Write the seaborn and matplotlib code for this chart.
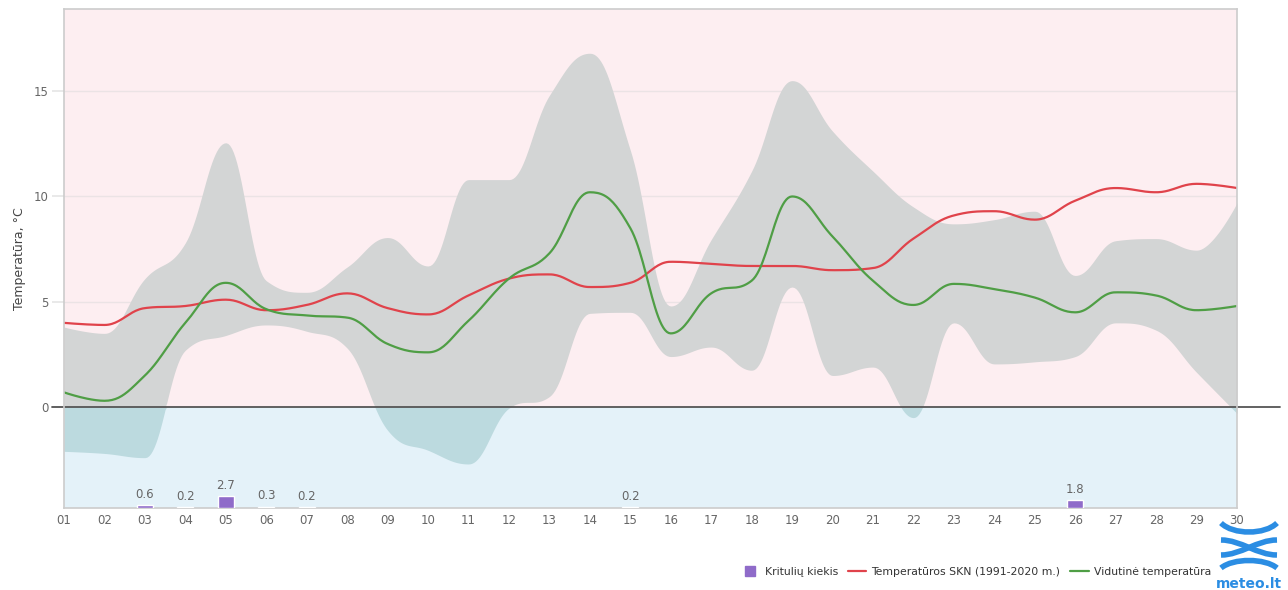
import numpy as np
import pandas as pd
import matplotlib
matplotlib.use("Agg")
import matplotlib.pyplot as plt
import seaborn as sns
from matplotlib.lines import Line2D
from matplotlib.path import Path
from matplotlib.patches import PathPatch

# ---------------- data ----------------
days = list(range(1, 31))
day_labels = [f"{d:02d}" for d in days]

t_norm = [4.0, 3.9, 4.7, 4.8, 5.1, 4.6, 4.85, 5.4, 4.7, 4.4, 5.3, 6.1, 6.3, 5.7, 5.9,
          6.9, 6.8, 6.7, 6.7, 6.5, 6.6, 8.0, 9.1, 9.3, 8.9, 9.8, 10.4, 10.2, 10.6, 10.4]
t_avg = [0.7, 0.3, 1.5, 4.0, 5.9, 4.65, 4.35, 4.25, 3.0, 2.6, 4.1, 6.1, 7.3, 10.2, 8.5,
         3.5, 5.4, 6.0, 10.0, 8.1, 6.0, 4.85, 5.85, 5.6, 5.2, 4.5, 5.45, 5.3, 4.6, 4.8]
t_max = [3.8, 3.5, 6.1, 7.8, 12.55, 6.0, 5.45, 6.65, 8.05, 6.7, 10.8, 10.8, 14.8, 16.8, 12.2,
         4.8, 7.95, 11.2, 15.5, 13.1, 11.2, 9.5, 8.7, 8.9, 9.3, 6.25, 7.9, 8.0, 7.45, 9.7]
t_min = [-2.1, -2.2, -2.4, 2.7, 3.4, 3.9, 3.6, 2.8, -1.1, -2.05, -2.7, -0.05, 0.5, 4.45, 4.5,
         2.4, 2.85, 1.75, 5.7, 1.5, 1.9, -0.5, 4.0, 2.05, 2.15, 2.4, 4.0, 3.65, 1.65, -0.3]

precip_days = [3, 4, 5, 6, 7, 15, 26]
precip_vals = [0.6, 0.2, 2.7, 0.3, 0.2, 0.2, 1.8]

legend_labels = ["Kritulių kiekis", "Temperatūros SKN (1991-2020 m.)", "Vidutinė temperatūra"]
y_label = "Temperatūra, °C"

# ---------------- colours ----------------
C_PINK = "#fdeef1"
C_BLUE = "#e4f2f9"
C_BAND = "#d3d5d5"
C_BAND_NEG = "#bcdadf"
C_RED = "#e0434b"
C_GREEN = "#4f9e45"
C_BAR = "#8f6bc9"
C_TXT = "#666666"
C_LOGO = "#2b8de3"


def spline(xs, ys, n=24, smoothing=1.5):
    """Highcharts-like spline (cubic bezier through points)."""
    xs = np.asarray(xs, float)
    ys = np.asarray(ys, float)
    m = len(xs)
    lcx, lcy = xs.copy(), ys.copy()
    rcx, rcy = xs.copy(), ys.copy()
    d = smoothing + 1
    for i in range(1, m - 1):
        px, py = xs[i], ys[i]
        lx, ly = xs[i - 1], ys[i - 1]
        nx, ny = xs[i + 1], ys[i + 1]
        lX = (smoothing * px + lx) / d
        lY = (smoothing * py + ly) / d
        rX = (smoothing * px + nx) / d
        rY = (smoothing * py + ny) / d
        if rX != lX:
            corr = (rY - lY) * (rX - px) / (rX - lX) + py - rY
            lY += corr
            rY += corr
            if lY > ly and lY > py:
                lY = max(ly, py); rY = 2 * py - lY
            elif lY < ly and lY < py:
                lY = min(ly, py); rY = 2 * py - lY
            if rY > ny and rY > py:
                rY = max(ny, py); lY = 2 * py - rY
            elif rY < ny and rY < py:
                rY = min(ny, py); lY = 2 * py - rY
        lcx[i], lcy[i], rcx[i], rcy[i] = lX, lY, rX, rY
    t = np.linspace(0, 1, n, endpoint=False)
    ox, oy = [], []
    for i in range(m - 1):
        p0 = np.array([xs[i], ys[i]])
        p1 = np.array([rcx[i], rcy[i]])
        p2 = np.array([lcx[i + 1], lcy[i + 1]])
        p3 = np.array([xs[i + 1], ys[i + 1]])
        b = ((1 - t) ** 3)[:, None] * p0 + (3 * (1 - t) ** 2 * t)[:, None] * p1 \
            + (3 * (1 - t) * t ** 2)[:, None] * p2 + (t ** 3)[:, None] * p3
        ox.append(b[:, 0]); oy.append(b[:, 1])
    ox.append([xs[-1]]); oy.append([ys[-1]])
    return np.concatenate(ox), np.concatenate(oy)


sns.set_theme(style="white")
plt.rcParams["font.family"] = ["DejaVu Sans"]

W, H = 1288, 590
fig = plt.figure(figsize=(W / 100, H / 100), dpi=100)
ax_l, ax_r, ax_t, ax_b = 64, 1237, 9, 508
ax = fig.add_axes([ax_l / W, 1 - ax_b / H, (ax_r - ax_l) / W, (ax_b - ax_t) / H])

ymin, ymax = -4.79, 18.9
ax.set_xlim(1, 30)
ax.set_ylim(ymin, ymax)

# backgrounds
ax.axhspan(0, ymax, color=C_PINK, zorder=0, lw=0)
ax.axhspan(ymin, 0, color=C_BLUE, zorder=0, lw=0)

# grid lines
for g in [5, 10, 15]:
    ax.axhline(g, color="#ebe3e5", lw=1, zorder=0.5)

# range band
sx, s_hi = spline(days, t_max)
_, s_lo = spline(days, t_min)
ax.fill_between(sx, np.maximum(s_lo, 0), np.maximum(s_hi, 0), color=C_BAND, lw=0, zorder=1)
ax.fill_between(sx, np.minimum(s_lo, 0), np.minimum(s_hi, 0), color=C_BAND_NEG, lw=0, zorder=1)

# zero line
ax.axhline(0, xmin=-0.0105, xmax=1.037, color="#555555", lw=1.3, zorder=3, clip_on=False)

# lines
_, s_norm = spline(days, t_norm)
_, s_avg = spline(days, t_avg)
df = pd.DataFrame({"x": sx, "norm": s_norm, "avg": s_avg})
sns.lineplot(data=df, x="x", y="norm", ax=ax, color=C_RED, lw=1.6, zorder=4, sort=False)
sns.lineplot(data=df, x="x", y="avg", ax=ax, color=C_GREEN, lw=1.6, zorder=4, sort=False)

# precipitation on twin axis
ax2 = ax.twinx()
ax2.set_ylim(0, 112)
ax2.bar(precip_days, precip_vals, width=0.4, color=C_BAR, zorder=5)
for d, v in zip(precip_days, precip_vals):
    ax2.annotate(f"{v:.1f}", (d, v), xytext=(0, 3), textcoords="offset points",
                 ha="center", va="bottom", fontsize=8.5, color=C_TXT)
ax2.set_yticks([])
for s in ax2.spines.values():
    s.set_visible(False)

# axes styling
ax.set_xticks(days)
ax.set_xticklabels(day_labels, fontsize=8.5, color=C_TXT)
ax.set_yticks([0, 5, 10, 15])
ax.set_yticklabels(["0", "5", "10", "15"], fontsize=8.5, color=C_TXT)
ax.tick_params(axis="x", length=0, pad=4)
ax.tick_params(axis="y", length=9, color="#e6e6e6", pad=2)
ax.set_xlabel("")
ax.set_ylabel(y_label, fontsize=9, color="#444444", labelpad=6)
for s in ax.spines.values():
    s.set_color("#cccccc")
    s.set_linewidth(1.2)
    s.set_zorder(6)

# legend
handles = [
    Line2D([], [], marker="s", ls="none", color=C_BAR, markersize=7),
    Line2D([], [], color=C_RED, lw=1.6),
    Line2D([], [], color=C_GREEN, lw=1.6),
]
fig.legend(handles, legend_labels, loc="center", bbox_to_anchor=(976 / W, 1 - 572 / H),
           ncol=3, frameon=False, fontsize=7.8, handlelength=1.7, columnspacing=0.9,
           handletextpad=0.5, labelcolor="#333333", borderaxespad=0, borderpad=0)

# logo (meteo.lt)
lax = fig.add_axes([0, 0, 1, 1], facecolor="none")
lax.set_xlim(0, W)
lax.set_ylim(H, 0)
lax.axis("off")
def curve(pts):
    codes = [Path.MOVETO] + [Path.CURVE4] * (len(pts) - 1)
    lax.add_patch(PathPatch(Path(pts, codes), fill=False, ec=C_LOGO, lw=4.0, capstyle="butt"))
curve([(1221, 523), (1233, 535), (1265, 535), (1277, 523)])
curve([(1221, 540), (1241, 540), (1257, 555), (1277, 555)])
curve([(1221, 555), (1241, 555), (1257, 540), (1277, 540)])
curve([(1221, 568), (1233, 558), (1265, 558), (1277, 568)])
lax.text(1249, 584, "meteo.lt", ha="center", va="center", fontsize=10, fontweight="bold",
         color=C_LOGO)

fig.savefig("out.png", dpi=100)
